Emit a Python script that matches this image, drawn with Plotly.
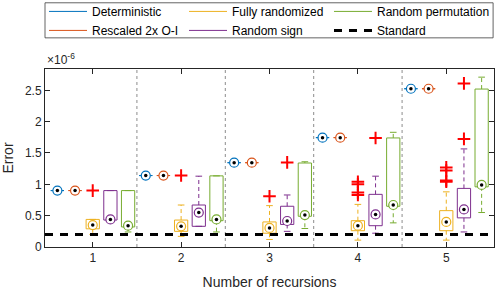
import plotly.graph_objects as go

# ---------------- data (values in units of 1e-6) ----------------
groups = [1, 2, 3, 4, 5]
separators = [1.5, 2.5, 3.5, 4.5]
x_tick_labels = ["1", "2", "3", "4", "5"]
y_tick_vals = [0, 0.5, 1, 1.5, 2, 2.5]
y_tick_labels = ["0", "0.5", "1", "1.5", "2", "2.5"]

series_names = ["Deterministic", "Rescaled 2x O-I", "Fully randomized",
                "Random sign", "Random permutation"]
series_colors = ["#0072BD", "#D95319", "#EDB120", "#7E2F8E", "#77AC30"]
series_offsets = [-0.4, -0.2, 0.0, 0.2, 0.4]
series_legends = ["legend", "legend", "legend2", "legend2", "legend3"]

standard_value = 0.2

det_values = [0.90, 1.14, 1.345, 1.745, 2.525]
resc_values = [0.90, 1.14, 1.345, 1.745, 2.525]

fr_lower = [0.20, 0.17, 0.12, 0.11, 0.11]
fr_q1 = [0.29, 0.25, 0.22, 0.26, 0.26]
fr_med = [0.35, 0.33, 0.305, 0.34, 0.40]
fr_q3 = [0.44, 0.43, 0.40, 0.42, 0.58]
fr_upper = [0.44, 0.67, 0.66, 0.68, 0.88]
fr_outliers = [[0.90], [1.14], [0.81], [0.83, 0.87, 1.00, 1.04], [1.04, 1.06, 1.22, 1.27]]

rs_lower = [0.43, 0.33, 0.25, 0.22, 0.24]
rs_q1 = [0.43, 0.33, 0.36, 0.34, 0.465]
rs_med = [0.44, 0.55, 0.415, 0.52, 0.60]
rs_q3 = [0.90, 0.67, 0.65, 0.84, 0.935]
rs_upper = [0.90, 1.13, 0.83, 1.13, 1.565]
rs_outliers = [[], [], [1.35], [1.74], [1.725, 2.61]]

rp_lower = [0.24, 0.24, 0.295, 0.385, 0.55]
rp_q1 = [0.32, 0.42, 0.49, 0.65, 0.96]
rp_med = [0.34, 0.44, 0.51, 0.67, 0.99]
rp_q3 = [0.90, 1.135, 1.34, 1.74, 2.52]
rp_upper = [0.90, 1.135, 1.36, 1.83, 2.71]
rp_outliers = [[], [], [], [], []]

series_stats = [
    (det_values, det_values, det_values, det_values, det_values, [[] for _ in groups]),
    (resc_values, resc_values, resc_values, resc_values, resc_values, [[] for _ in groups]),
    (fr_lower, fr_q1, fr_med, fr_q3, fr_upper, fr_outliers),
    (rs_lower, rs_q1, rs_med, rs_q3, rs_upper, rs_outliers),
    (rp_lower, rp_q1, rp_med, rp_q3, rp_upper, rp_outliers),
]

x_range = [0.46, 5.54]
y_range = [0, 2.84]
box_half = 0.075
cap_half = 0.0375

FONT = "Liberation Sans, Arial, sans-serif"
AX = "#262626"

fig = go.Figure()

# legend entries (one per series, drawn only in the legends)
for i, name in enumerate(series_names):
    fig.add_trace(go.Scatter(x=[None], y=[None], mode="lines", name=name,
                             legend=series_legends[i],
                             line=dict(color=series_colors[i], width=1), hoverinfo="skip"))
fig.add_trace(go.Scatter(x=[None], y=[None], mode="lines", name="Standard", legend="legend3",
                         line=dict(color="black", width=3, dash="8px,7px"), hoverinfo="skip"))

# separators
for s in separators:
    fig.add_shape(type="line", xref="x", yref="paper", x0=s, x1=s, y0=0, y1=1,
                  line=dict(color="#8c8c8c", width=1, dash="dot"), layer="below")

# legend frame
fig.add_shape(type="rect", xref="paper", yref="paper", x0=0, x1=0.998, y0=1.175, y1=1.372,
              line=dict(color="#3c3c3c", width=0.8), fillcolor="rgba(0,0,0,0)")

for i, name in enumerate(series_names):
    lo, q1, med, q3, up, outs = series_stats[i]
    col = series_colors[i]
    pos = [g + series_offsets[i] for g in groups]
    bx, by, wx, wy, cx, cy, ox, oy = [], [], [], [], [], [], [], []
    for k, p in enumerate(pos):
        bx += [p - box_half, p + box_half, p + box_half, p - box_half, p - box_half, None]
        by += [q3[k], q3[k], q1[k], q1[k], q3[k], None]
        wx += [p, p, None, p, p, None]
        wy += [q3[k], up[k], None, q1[k], lo[k], None]
        cx += [p - cap_half, p + cap_half, None, p - cap_half, p + cap_half, None]
        cy += [up[k], up[k], None, lo[k], lo[k], None]
        for o in outs[k]:
            ox.append(p)
            oy.append(o)
    fig.add_trace(go.Scatter(x=wx, y=wy, mode="lines", showlegend=False,
                             line=dict(color=col, width=1, dash="4px,3px"), hoverinfo="skip"))
    fig.add_trace(go.Scatter(x=cx, y=cy, mode="lines", showlegend=False,
                             line=dict(color=col, width=1), hoverinfo="skip"))
    fig.add_trace(go.Scatter(x=bx, y=by, mode="lines", showlegend=False,
                             line=dict(color=col, width=1), hoverinfo="skip"))
    fig.add_trace(go.Scatter(x=pos, y=med, mode="markers", showlegend=False,
                             marker=dict(symbol="circle", size=9, color="white",
                                         line=dict(color=col, width=1.2)), hoverinfo="skip"))
    fig.add_trace(go.Scatter(x=pos, y=med, mode="markers", showlegend=False,
                             marker=dict(symbol="circle", size=3.5, color="black"), hoverinfo="skip"))
    if ox:
        fig.add_trace(go.Scatter(x=ox, y=oy, mode="markers", showlegend=False,
                                 marker=dict(symbol="cross-thin-open", size=9, color="#ff0000",
                                             line=dict(color="#ff0000", width=2)),
                                 hoverinfo="skip"))

# standard dashed line
fig.add_trace(go.Scatter(
    x=x_range, y=[standard_value, standard_value], mode="lines", showlegend=False,
    line=dict(color="black", width=3, dash="8px,7px"), hoverinfo="skip"))

fig.add_annotation(xref="paper", yref="paper", x=0, y=1, xanchor="left", yanchor="bottom",
                   yshift=0, text="×10<sup>-6</sup>", showarrow=False,
                   font=dict(family=FONT, size=12, color=AX))

leg_common = dict(orientation="v", yanchor="top", y=1.405, xanchor="left",
                  borderwidth=0, bgcolor="rgba(0,0,0,0)", itemwidth=38,
                  font=dict(family=FONT, size=12, color="black"), traceorder="normal")

fig.update_layout(
    width=498, height=290,
    margin=dict(l=45, r=4, t=69, b=43, autoexpand=False),
    paper_bgcolor="white", plot_bgcolor="white",
    font=dict(family=FONT, size=12, color=AX),
    showlegend=True,
    legend=dict(x=-0.0022, **leg_common),
    legend2=dict(x=0.3096, **leg_common),
    legend3=dict(x=0.6325, **leg_common),
    xaxis=dict(range=x_range, tickmode="array", tickvals=groups, ticktext=x_tick_labels,
               showline=True, linecolor=AX, linewidth=1, mirror="ticks",
               ticks="inside", ticklen=5, tickcolor=AX, showgrid=False, zeroline=False,
               title=dict(text="Number of recursions", font=dict(family=FONT, size=14, color=AX),
                          standoff=12),
               tickfont=dict(family=FONT, size=12, color=AX)),
    yaxis=dict(range=y_range, tickmode="array", tickvals=y_tick_vals, ticktext=y_tick_labels,
               showline=True, linecolor=AX, linewidth=1, mirror="ticks",
               ticks="inside", ticklen=5, tickcolor=AX, showgrid=False, zeroline=False,
               title=dict(text="Error", font=dict(family=FONT, size=14, color=AX), standoff=9),
               tickfont=dict(family=FONT, size=12, color=AX)),
)

fig.write_html("out.html", post_script="document.body.style.margin='0px';",
               config={"displayModeBar": False})
